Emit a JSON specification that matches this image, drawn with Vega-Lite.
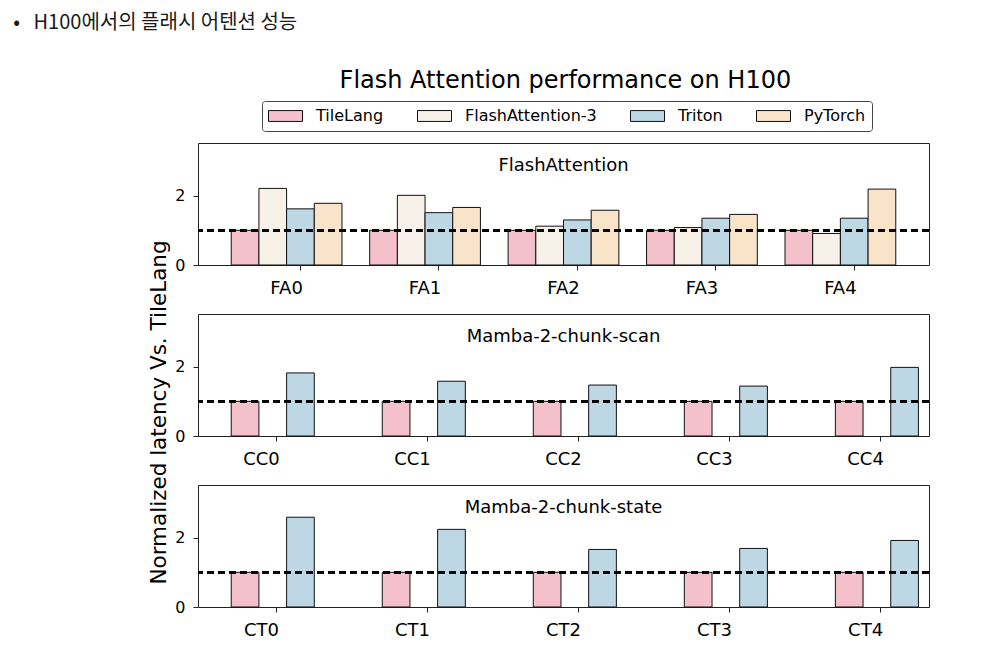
{
  "$schema": "https://vega.github.io/schema/vega-lite/v6.json",
  "background": "white",
  "padding": {"left": 13, "top": 12, "right": 5, "bottom": 5},
  "title": {"text": "•\u00a0\u00a0\u00a0H100에서의 플래시 어텐션 성능", "anchor": "start", "frame": "bounds", "dx": -135, "font": "Noto Sans CJK KR", "fontSize": 20, "fontWeight": "normal", "color": "#1a1a1a", "offset": 36},
  "datasets": {
    "fa": [
      {"kernel": "FA0", "method": "TileLang", "latency": 1.0},
      {"kernel": "FA0", "method": "FlashAttention-3", "latency": 2.21},
      {"kernel": "FA0", "method": "Triton", "latency": 1.62},
      {"kernel": "FA0", "method": "PyTorch", "latency": 1.78},
      {"kernel": "FA1", "method": "TileLang", "latency": 1.0},
      {"kernel": "FA1", "method": "FlashAttention-3", "latency": 2.01},
      {"kernel": "FA1", "method": "Triton", "latency": 1.51},
      {"kernel": "FA1", "method": "PyTorch", "latency": 1.66},
      {"kernel": "FA2", "method": "TileLang", "latency": 1.0},
      {"kernel": "FA2", "method": "FlashAttention-3", "latency": 1.12},
      {"kernel": "FA2", "method": "Triton", "latency": 1.30},
      {"kernel": "FA2", "method": "PyTorch", "latency": 1.58},
      {"kernel": "FA3", "method": "TileLang", "latency": 1.0},
      {"kernel": "FA3", "method": "FlashAttention-3", "latency": 1.08},
      {"kernel": "FA3", "method": "Triton", "latency": 1.35},
      {"kernel": "FA3", "method": "PyTorch", "latency": 1.46},
      {"kernel": "FA4", "method": "TileLang", "latency": 1.0},
      {"kernel": "FA4", "method": "FlashAttention-3", "latency": 0.91},
      {"kernel": "FA4", "method": "Triton", "latency": 1.35},
      {"kernel": "FA4", "method": "PyTorch", "latency": 2.19}
    ],
    "cc": [
      {"kernel": "CC0", "method": "TileLang", "latency": 1.0},
      {"kernel": "CC0", "method": "Triton", "latency": 1.82},
      {"kernel": "CC1", "method": "TileLang", "latency": 1.0},
      {"kernel": "CC1", "method": "Triton", "latency": 1.58},
      {"kernel": "CC2", "method": "TileLang", "latency": 1.0},
      {"kernel": "CC2", "method": "Triton", "latency": 1.47},
      {"kernel": "CC3", "method": "TileLang", "latency": 1.0},
      {"kernel": "CC3", "method": "Triton", "latency": 1.44},
      {"kernel": "CC4", "method": "TileLang", "latency": 1.0},
      {"kernel": "CC4", "method": "Triton", "latency": 1.98}
    ],
    "ct": [
      {"kernel": "CT0", "method": "TileLang", "latency": 1.0},
      {"kernel": "CT0", "method": "Triton", "latency": 2.59},
      {"kernel": "CT1", "method": "TileLang", "latency": 1.0},
      {"kernel": "CT1", "method": "Triton", "latency": 2.24},
      {"kernel": "CT2", "method": "TileLang", "latency": 1.0},
      {"kernel": "CT2", "method": "Triton", "latency": 1.66},
      {"kernel": "CT3", "method": "TileLang", "latency": 1.0},
      {"kernel": "CT3", "method": "Triton", "latency": 1.69},
      {"kernel": "CT4", "method": "TileLang", "latency": 1.0},
      {"kernel": "CT4", "method": "Triton", "latency": 1.92}
    ]
  },
  "resolve": {"scale": {"fill": "independent"}, "legend": {"fill": "independent"}},
  "vconcat": [
    {
      "title": {"text": "Flash Attention performance on H100", "fontSize": 24, "fontWeight": "normal", "font": "DejaVu Sans", "anchor": "middle", "frame": "bounds", "dx": 26, "offset": 8, "color": "black"},
      "bounds": "flush",
      "spacing": 49,
      "vconcat": [
        {
          "width": 731, "height": 122,
          "data": {"name": "fa"},
          "title": {"text": "FlashAttention", "fontSize": 18, "fontWeight": "normal", "font": "DejaVu Sans", "offset": -32, "frame": "group", "anchor": "middle", "color": "black"},
          "layer": [
            {
              "mark": {"type": "bar", "stroke": "#111", "strokeWidth": 1},
              "encoding": {
                "x": {"field": "kernel", "type": "nominal", "sort": null, "scale": {"paddingInner": 0.2, "paddingOuter": 0.24}, "axis": {"title": null, "labelAngle": 0, "labelFontSize": 18, "labelPadding": 9, "bandPosition": 0.625}},
                "xOffset": {"field": "method", "type": "nominal", "sort": ["TileLang", "FlashAttention-3", "Triton", "PyTorch"]},
                "y": {"field": "latency", "type": "quantitative", "scale": {"domain": [0, 3.52], "nice": false}, "axis": {"values": [0, 2], "title": "Normalized latency Vs. TileLang", "titleY": 269, "titleFontSize": 21.5, "titleFontWeight": "normal", "titleFont": "DejaVu Sans", "titleColor": "black", "titlePadding": 4, "labelPadding": 8}},
                "fill": {"field": "method", "type": "nominal",
                  "scale": {"domain": ["TileLang", "FlashAttention-3", "Triton", "PyTorch"], "range": ["#f4c0cc", "#f7f1ea", "#bdd7e5", "#f9e3c9"]},
                  "legend": {"orient": "none", "legendX": 64, "legendY": -42, "direction": "horizontal", "columns": 4, "title": null,
                    "symbolType": "M-1,-0.32H1V0.32H-1Z", "symbolSize": 1156, "symbolStrokeColor": "#111", "symbolStrokeWidth": 1, "symbolOpacity": 1,
                    "labelFontSize": 16, "labelFont": "DejaVu Sans", "labelColor": "black", "labelOffset": 13, "columnPadding": 33,
                    "padding": 6, "strokeColor": "#444", "fillColor": "white", "cornerRadius": 3, "clipHeight": 18}}
              }
            },
            {"mark": {"type": "rule", "strokeDash": [7, 4], "strokeWidth": 2, "color": "black"}, "encoding": {"y": {"datum": 1}}}
          ]
        },
        {
          "width": 731, "height": 122,
          "data": {"name": "cc"},
          "title": {"text": "Mamba-2-chunk-scan", "fontSize": 18, "fontWeight": "normal", "font": "DejaVu Sans", "offset": -32, "frame": "group", "anchor": "middle", "color": "black"},
          "layer": [
            {
              "mark": {"type": "bar", "stroke": "#111", "strokeWidth": 1},
              "encoding": {
                "x": {"field": "kernel", "type": "nominal", "sort": null, "scale": {"paddingInner": 0.6, "paddingOuter": 0.22}, "axis": {"title": null, "labelAngle": 0, "labelFontSize": 18, "labelPadding": 9, "bandPosition": 0.75}},
                "xOffset": {"field": "method", "type": "nominal", "sort": ["TileLang", "Triton"]},
                "y": {"field": "latency", "type": "quantitative", "scale": {"domain": [0, 3.52], "nice": false}, "axis": {"values": [0, 2], "title": null, "labelPadding": 8}},
                "fill": {"field": "method", "type": "nominal",
                  "scale": {"domain": ["TileLang", "FlashAttention-3", "Triton", "PyTorch"], "range": ["#f4c0cc", "#f7f1ea", "#bdd7e5", "#f9e3c9"]}}
              }
            },
            {"mark": {"type": "rule", "strokeDash": [7, 4], "strokeWidth": 2, "color": "black"}, "encoding": {"y": {"datum": 1}}}
          ]
        },
        {
          "width": 731, "height": 122,
          "data": {"name": "ct"},
          "title": {"text": "Mamba-2-chunk-state", "fontSize": 18, "fontWeight": "normal", "font": "DejaVu Sans", "offset": -32, "frame": "group", "anchor": "middle", "color": "black"},
          "layer": [
            {
              "mark": {"type": "bar", "stroke": "#111", "strokeWidth": 1},
              "encoding": {
                "x": {"field": "kernel", "type": "nominal", "sort": null, "scale": {"paddingInner": 0.6, "paddingOuter": 0.22}, "axis": {"title": null, "labelAngle": 0, "labelFontSize": 18, "labelPadding": 9, "bandPosition": 0.75}},
                "xOffset": {"field": "method", "type": "nominal", "sort": ["TileLang", "Triton"]},
                "y": {"field": "latency", "type": "quantitative", "scale": {"domain": [0, 3.52], "nice": false}, "axis": {"values": [0, 2], "title": null, "labelPadding": 8}},
                "fill": {"field": "method", "type": "nominal",
                  "scale": {"domain": ["TileLang", "FlashAttention-3", "Triton", "PyTorch"], "range": ["#f4c0cc", "#f7f1ea", "#bdd7e5", "#f9e3c9"]}}
              }
            },
            {"mark": {"type": "rule", "strokeDash": [7, 4], "strokeWidth": 2, "color": "black"}, "encoding": {"y": {"datum": 1}}}
          ]
        }
      ]
    }
  ],
  "config": {
    "view": {"stroke": "#222", "strokeWidth": 1},
    "font": "DejaVu Sans",
    "axis": {"labelFont": "DejaVu Sans", "labelColor": "black", "tickColor": "#222", "domain": false, "grid": false, "tickSize": 5, "labelFontSize": 16}
  }
}
